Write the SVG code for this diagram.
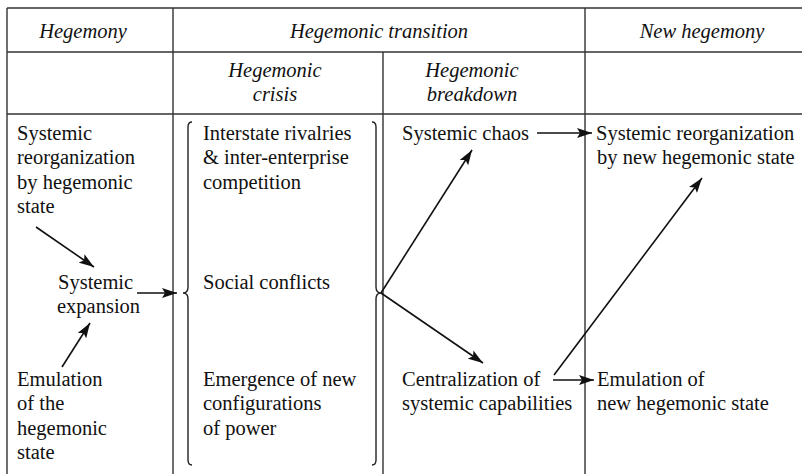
<svg xmlns="http://www.w3.org/2000/svg" width="802" height="474" viewBox="0 0 802 474">
<style>
.grid{stroke:#333;stroke-width:1.4;fill:none}
.t{font-family:"Liberation Serif","Times New Roman",serif;font-size:20.5px;fill:#111}
.h{font-style:italic;text-anchor:middle}
.c{stroke:#111;stroke-width:1.6;fill:none;marker-end:url(#ah)}
.br{stroke:#222;stroke-width:1.4;fill:none}
</style>
<defs>
<marker id="ah" markerUnits="userSpaceOnUse" markerWidth="16" markerHeight="10" refX="15" refY="5" orient="auto">
<path d="M0,0 L15,5 L0,10 L3,5 Z" fill="#111"/>
</marker>
</defs>
<rect width="802" height="474" fill="#fff"/>
<g id="table">
<path class="grid" d="M7,8 H802 M7,52 H802 M7,114 H802 M7,8 V474 M173,8 V474 M383,52 V474 M585,8 V474"/>
</g>
<g id="headers" class="t h">
<text x="83" y="38">Hegemony</text>
<text x="379" y="38">Hegemonic transition</text>
<text x="702" y="38">New hegemony</text>
<text x="275" y="77">Hegemonic</text>
<text x="275" y="101">crisis</text>
<text x="472" y="77">Hegemonic</text>
<text x="472" y="101">breakdown</text>
</g>
<g id="n-reorg" class="t">
<text x="17" y="140">Systemic</text>
<text x="17" y="164">reorganization</text>
<text x="17" y="189">by hegemonic</text>
<text x="17" y="213">state</text>
</g>
<g id="n-expansion" class="t">
<text x="58" y="289">Systemic</text>
<text x="57" y="313">expansion</text>
</g>
<g id="n-emulation" class="t">
<text x="17" y="386">Emulation</text>
<text x="17" y="410">of the</text>
<text x="17" y="435">hegemonic</text>
<text x="17" y="459">state</text>
</g>
<g id="n-crisis">
<path class="br" d="M192,122 Q188,122 188,127 V287 Q188,293 183,293 Q188,293 188,299 V460 Q188,465 192,465"/>
<path class="br" d="M372,122 Q376,122 376,127 V287 Q376,293 381,293 Q376,293 376,299 V460 Q376,465 372,465"/>
<g class="t">
<text x="203" y="140">Interstate rivalries</text>
<text x="203" y="164">&amp; inter-enterprise</text>
<text x="203" y="189">competition</text>
<text x="203" y="289">Social conflicts</text>
<text x="203" y="386">Emergence of new</text>
<text x="203" y="410">configurations</text>
<text x="203" y="435">of power</text>
</g>
</g>
<g id="n-chaos" class="t"><text x="402" y="140">Systemic chaos</text></g>
<g id="n-central" class="t">
<text x="402" y="386">Centralization of</text>
<text x="402" y="410">systemic capabilities</text>
</g>
<g id="n-newreorg" class="t">
<text x="596" y="140">Systemic reorganization</text>
<text x="597" y="164">by new hegemonic state</text>
</g>
<g id="n-newemul" class="t">
<text x="597" y="386">Emulation of</text>
<text x="597" y="410">new hegemonic state</text>
</g>
<g id="connectors">
<line class="c" x1="36" y1="227" x2="94" y2="267"/>
<line class="c" x1="62" y1="367" x2="90" y2="323"/>
<line class="c" x1="137" y1="293" x2="177" y2="293"/>
<line class="c" x1="381" y1="293" x2="472" y2="150"/>
<line class="c" x1="381" y1="293" x2="483" y2="363"/>
<line class="c" x1="537" y1="133" x2="592" y2="133"/>
<line class="c" x1="553" y1="380" x2="594" y2="380"/>
<line class="c" x1="554" y1="375" x2="702" y2="178"/>
</g>
</svg>
